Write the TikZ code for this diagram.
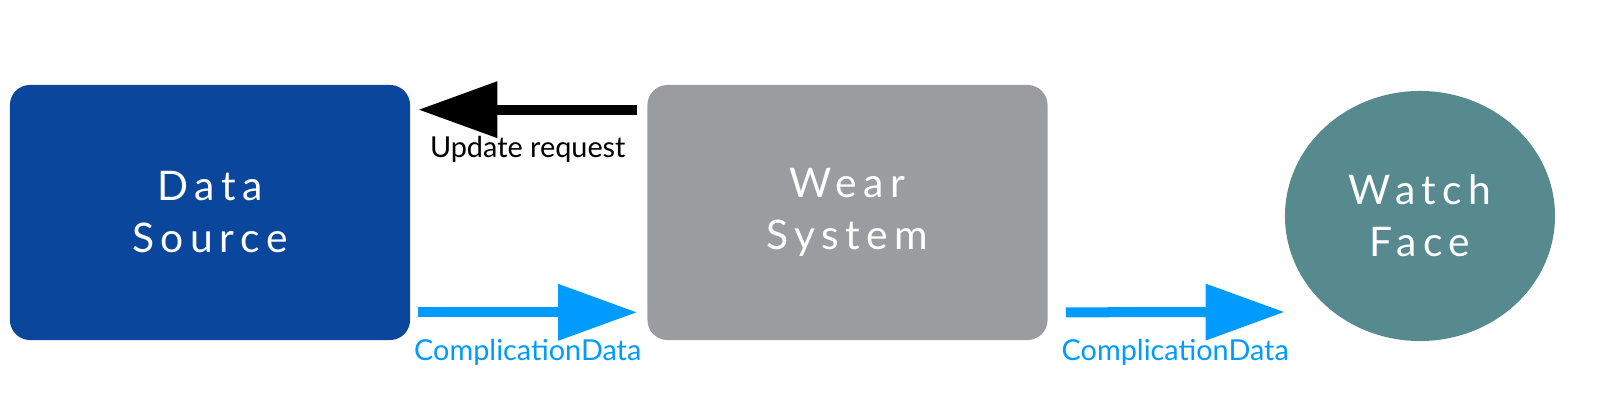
\documentclass[tikz,border=0pt]{standalone}
\usepackage{fontspec}
\setmainfont{Lato}
\newfontfamily\spacedfont[LetterSpace=16]{Lato}
\usetikzlibrary{arrows.meta,calc,shapes.geometric}
\definecolor{sourceblue}{HTML}{0A479C}
\definecolor{systemgray}{HTML}{9B9C9F}
\definecolor{faceteal}{HTML}{568A8F}
\definecolor{flowblue}{HTML}{009BFF}
\begin{document}
\begin{tikzpicture}
    [
    x=0.025cm,y=-0.025cm,
    block/.style={rounded corners=0.5cm,minimum width=10cm,minimum height=6.375cm,text=white,align=center,font=\spacedfont\fontsize{29}{37}\selectfont},
    face/.style={ellipse,fill=faceteal,minimum width=6.75cm,minimum height=6.25cm,text=white,align=center,font=\spacedfont\fontsize{29}{37}\selectfont},
    request/.style={line width=0.25cm,-{Triangle[length=1.975cm,width=1.35cm]}},
    flow/.style={request,draw=flowblue},
    tag/.style={midway,yshift=-1cm,font=\fontsize{20.5}{24}\selectfont}
    ]
    \useasboundingbox (0,0) rectangle (1600,405);
    \node (DS) at (210,212.5) [block,fill=sourceblue] {Data\\Source};
    \node (WS) at (847.5,212.5) [block,fill=systemgray] {Wear\\System};
    \node (WF) at (1420,216) [face] {Watch\\Face};
    \draw [request] ($(WS.north west)+(-10,25)$) -- node[tag,text=black] {Update request} ($(DS.north east)+(8,25)$);
    \draw [flow] ($(DS.south east)+(8,-28)$) -- node[tag,text=flowblue] {ComplicationData} ($(WS.south west)+(-10,-28)$);
    \draw [flow] ($(WS.south east)+(18,-28)$) -- node[tag,text=flowblue] {ComplicationData} ($(WF.west)+(0,96)$);
\end{tikzpicture}
\end{document}
